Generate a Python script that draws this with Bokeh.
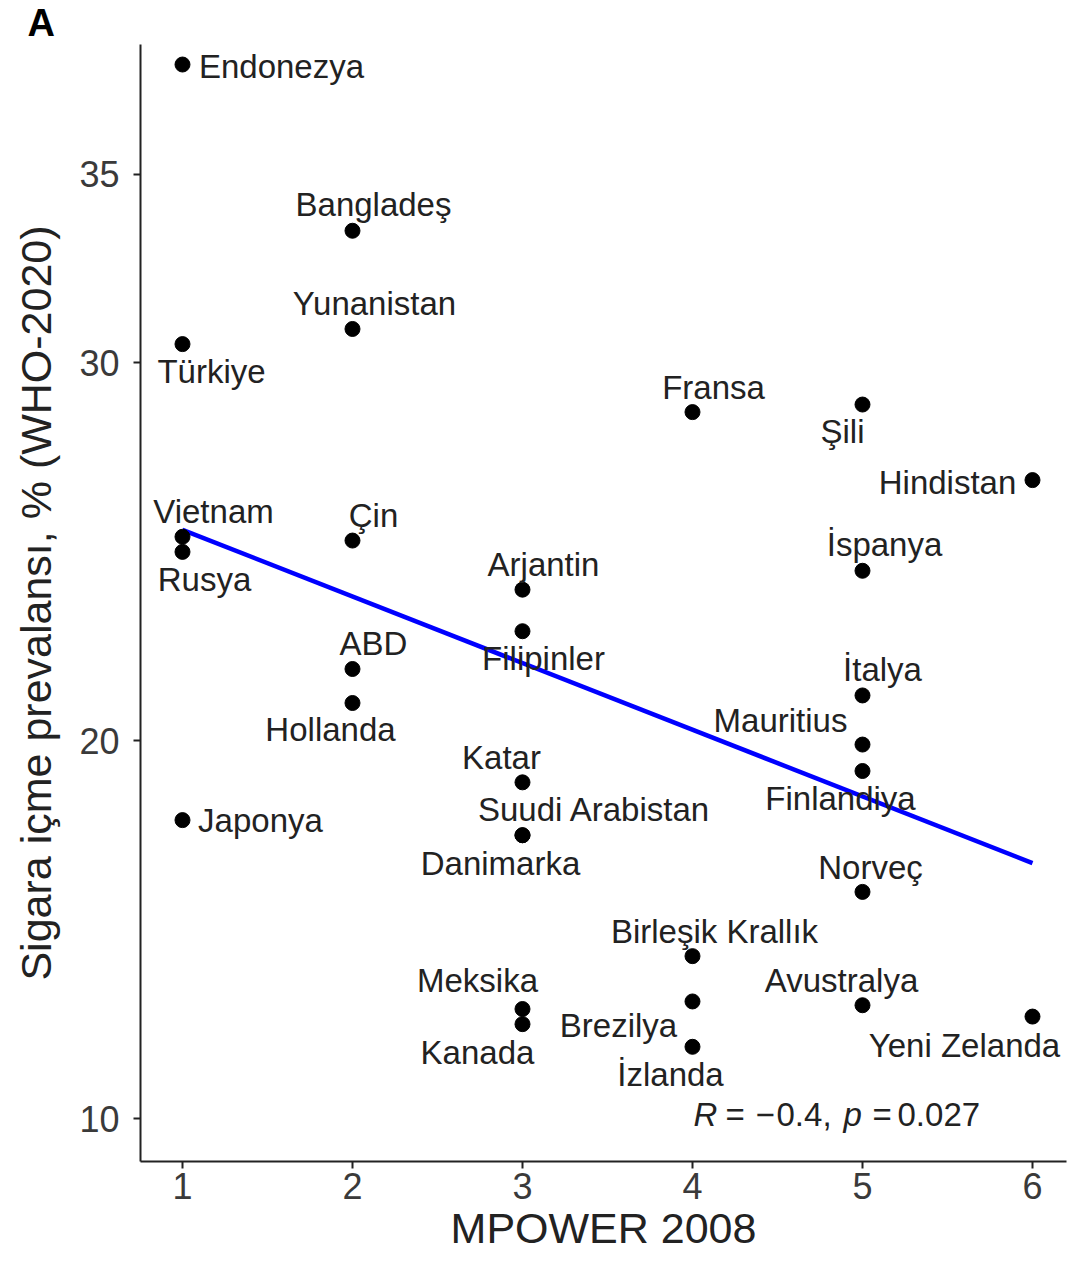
import numpy as np
from bokeh.plotting import figure
from bokeh.models import FixedTicker, Label, ColumnDataSource, Range1d, Title
from bokeh.core.properties import value
from bokeh.embed import file_html
from bokeh.resources import INLINE

# ---- data ----
countries = ["Endonezya", "Bangladeş", "Yunanistan", "Türkiye", "Fransa", "Şili",
             "Hindistan", "Vietnam", "Rusya", "Çin", "İspanya", "Arjantin",
             "Filipinler", "ABD", "Hollanda", "İtalya", "Mauritius", "Finlandiya",
             "Katar", "Japonya", "Suudi Arabistan", "Danimarka", "Norveç",
             "Birleşik Krallık", "Brezilya", "Avustralya", "Meksika", "Kanada",
             "Yeni Zelanda", "İzlanda"]
mpower = [1, 2, 2, 1, 4, 5,
          6, 1, 1, 2, 5, 3,
          3, 2, 2, 5, 5, 5,
          3, 1, 3, 3, 5,
          4, 4, 5, 3, 3,
          6, 4]
prevalence = [37.9, 33.5, 30.9, 30.5, 28.7, 28.9,
              26.9, 25.4, 25.0, 25.3, 24.5, 24.0,
              22.9, 21.9, 21.0, 21.2, 19.9, 19.2,
              18.9, 17.9, 17.5, 17.5, 16.0,
              14.3, 13.1, 13.0, 12.9, 12.5,
              12.7, 11.9]
x_ticks = [1, 2, 3, 4, 5, 6]
y_ticks = [10, 20, 30, 35]
r_value = "0.4"
p_value = "0.027"

# label placement (screen pixel offsets from each point, like ggrepel)
label_dx = [99, 21, 22, 29, 21, -20,
            -85, 31, 22, 21, 22, 21,
            21, 21, -22, 20, -82, -22,
            -21, 78, 72, -22, 8,
            22, -74, -21, -45, -45,
            -68, -22]
label_dy = [2, -26, -25, 27, -25, 27,
            2, -25, 28, -25, -26, -25,
            27, -26, 26, -26, -24, 27,
            -25, 0, -26, 28, -24,
            -25, 24, -25, -29, 28,
            29, 28]

FONT = "Liberation Sans"

src = ColumnDataSource(dict(x=mpower, y=prevalence, name=countries,
                            dx=label_dx, dy=label_dy))

p = figure(width=1068, height=1254, output_backend="svg", toolbar_location=None,
           x_range=Range1d(0.753, 6.2), y_range=Range1d(8.864, 38.43),
           min_border_left=140, min_border_right=2, min_border_top=42,
           min_border_bottom=93)
p.outline_line_color = None
p.xgrid.visible = False
p.ygrid.visible = False
p.background_fill_color = "white"
p.border_fill_color = "white"

# panel letter
p.add_layout(Title(text="A", align="left", offset=-113, standoff=0,
                   vertical_align="middle", text_font=FONT, text_font_size="38px",
                   text_font_style="bold", text_color="black"), "above")

for ax in (p.xaxis[0], p.yaxis[0]):
    ax.axis_line_color = "#222222"
    ax.axis_line_width = 2
    ax.major_tick_line_color = "#222222"
    ax.major_tick_line_width = 2
    ax.major_tick_out = 7
    ax.major_tick_in = 0
    ax.minor_tick_line_color = None
    ax.major_label_text_font = FONT
    ax.major_label_text_font_size = "36px"
    ax.major_label_text_color = "#3a3a3a"
    ax.axis_label_text_font = FONT
    ax.axis_label_text_font_size = "43px"
    ax.axis_label_text_font_style = "normal"
    ax.axis_label_text_color = "#222222"

p.xaxis[0].ticker = FixedTicker(ticks=x_ticks)
p.yaxis[0].ticker = FixedTicker(ticks=y_ticks)
p.xaxis[0].axis_label = "MPOWER 2008"
p.yaxis[0].axis_label = "Sigara içme prevalansı, % (WHO-2020)"
p.xaxis[0].major_label_standoff = 4
p.yaxis[0].major_label_standoff = 14
p.xaxis[0].axis_label_standoff = 2
p.yaxis[0].axis_label_standoff = 16

# regression line computed from the data
slope, intercept = np.polyfit(mpower, prevalence, 1)
fx = np.array([min(mpower), max(mpower)], dtype=float)
p.line(fx, slope * fx + intercept, line_color="#0000FF", line_width=4.5)

p.scatter("x", "y", source=src, size=15, fill_color="black", line_color="black")

p.text("x", "y", text="name", source=src, x_offset="dx", y_offset="dy",
       text_align="center", text_baseline="middle",
       text_font=value(FONT), text_font_size="33px", text_color="#222222")

# correlation annotation
ax0, ay0 = 4.006, 10.1
pieces = [("R", "italic", 0), ("=", "normal", 32), ("−", "normal", 62),
          (r_value + ",", "normal", 83), ("p", "italic", 150),
          ("=", "normal", 179), (p_value, "normal", 204)]
for t, style, off in pieces:
    p.add_layout(Label(x=ax0, y=ay0, x_offset=off, text=t, text_font=FONT,
                       text_font_size="33px", text_font_style=style,
                       text_color="#222222", text_baseline="middle",
                       text_align="left"))

open("out.html", "w").write(file_html(p, INLINE))
